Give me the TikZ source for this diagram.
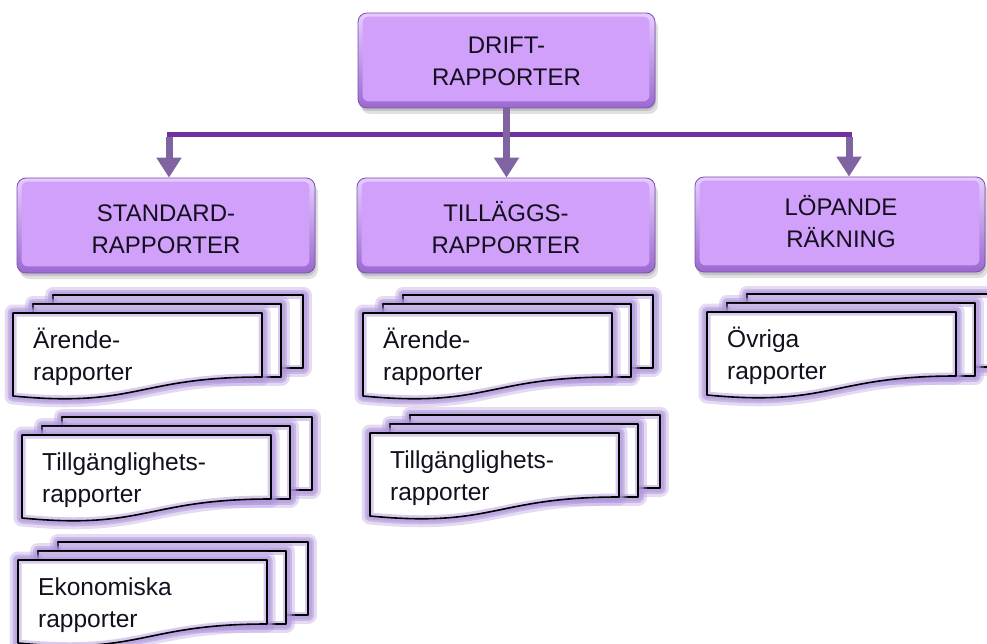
\documentclass[tikz,border=0pt]{standalone}
\usepackage{fontspec}
\setmainfont{Liberation Sans}
\usetikzlibrary{arrows.meta,shadows}
\definecolor{hlinec}{RGB}{112,48,160}
\definecolor{stemc}{RGB}{128,100,162}
\definecolor{glowc}{RGB}{178,152,222}
\definecolor{boxmain}{RGB}{208,160,250}
\definecolor{boxtop}{RGB}{230,204,255}
\definecolor{boxbot}{RGB}{155,105,208}
\definecolor{boxline}{RGB}{125,80,175}
\definecolor{txtc}{RGB}{20,15,30}
\newcommand\hdrtxt[2]{\vtop{\baselineskip=32pt\hbox to 0pt{\hss #1\hss}\hbox to 0pt{\hss #2\hss}}}
\newcommand\doctxt[2]{\vtop{\baselineskip=32pt\hbox{#1}\hbox{#2}}}
\tikzset{
  hdrbox/.style={rectangle, rounded corners=9pt, draw=boxline, line width=0.8pt,
    top color=boxtop, bottom color=boxbot, inner sep=0pt,
    general shadow={fill=black, opacity=0.12, shadow xshift=1pt, shadow yshift=-3pt},
    general shadow={fill=black, opacity=0.12, shadow xshift=3pt, shadow yshift=-6pt}},
  hdrin/.style={fill=boxmain, rounded corners=6pt},
  hdrtext/.style={font=\fontsize{24pt}{32pt}\selectfont, text=txtc, inner sep=0pt, anchor=base},
  doctext/.style={font=\fontsize{24.5pt}{32pt}\selectfont, text=txtc, inner sep=0pt, anchor=base west},
  pg/.style={preaction={draw=glowc, line width=17pt, opacity=0.35, line join=round},
    preaction={draw=glowc, line width=11pt, opacity=0.55, line join=round},
    preaction={fill=white},
    preaction={draw=glowc, line width=7pt, opacity=0.5, line join=round},
    draw=black, line width=1.6pt, line join=round},
  stemln/.style={draw=stemc, line width=7pt, -{Triangle[length=20pt,width=24pt]}},
  hline/.style={draw=hlinec, line width=5pt, line cap=rect}
}
\newcommand\docstack[5]{%
  \begin{scope}[shift={(#1,#2)}]
    \path[pg] (40,-18) rectangle (290,55);
    \path[pg] (20,-9) rectangle (268,64);
    \path[pg] (0,0) -- (249,0) -- (249,64) .. controls (124,64) and (124,95) .. (0,83) -- cycle;
    \node[doctext] (#3) at (20,35) {\doctxt{#4}{#5}};
  \end{scope}}
\begin{document}
\begin{tikzpicture}[x=1pt,y=-1pt]
\useasboundingbox (0,0) rectangle (987,644);
\clip (0,0) rectangle (987,644);
\fill[white] (0,0) rectangle (987,644);

% header boxes
\node[hdrbox, minimum width=297pt, minimum height=95pt] (drift) at (506.5,60.5) {};
\node[hdrbox, minimum width=298pt, minimum height=95pt] (std) at (166,225.5) {};
\node[hdrbox, minimum width=298pt, minimum height=95pt] (till) at (506,225.5) {};
\node[hdrbox, minimum width=290pt, minimum height=95pt] (lop) at (840,224.5) {};
\foreach \n in {drift,std,till,lop}{
  \path[hdrin] ([shift={(5,4)}]\n.north west) rectangle ([shift={(-6,-7)}]\n.south east);
}
\node[hdrtext] (driftt) at (506.5,54) {\hdrtxt{DRIFT-}{RAPPORTER}};
\node[hdrtext] (stdt) at (166,222) {\hdrtxt{STANDARD-}{RAPPORTER}};
\node[hdrtext] (tillt) at (506,222) {\hdrtxt{TILLÄGGS-}{RAPPORTER}};
\node[hdrtext] (lopt) at (841,216) {\hdrtxt{LÖPANDE}{RÄKNING}};

% connectors
\coordinate (jl) at (169,135);
\coordinate (jr) at (849,135);
\draw[hline] (jl) -- (jr);
\draw[stemln] ([yshift=-2pt]jl) -- (jl |- std.north);
\draw[stemln] ([yshift=-2pt]jr) -- (jr |- lop.north);
\draw[stemln] ([yshift=1pt]drift.south) -- (drift.south |- till.north);

% document stacks
\docstack{13}{313}{s1}{Ärende-}{rapporter}
\docstack{22}{435}{s2}{Tillgänglighets-}{rapporter}
\docstack{18}{560}{s3}{Ekonomiska}{rapporter}
\docstack{363}{313}{t1}{Ärende-}{rapporter}
\docstack{370}{433}{t2}{Tillgänglighets-}{rapporter}
\docstack{707}{312}{l1}{Övriga}{rapporter}
\end{tikzpicture}
\end{document}
